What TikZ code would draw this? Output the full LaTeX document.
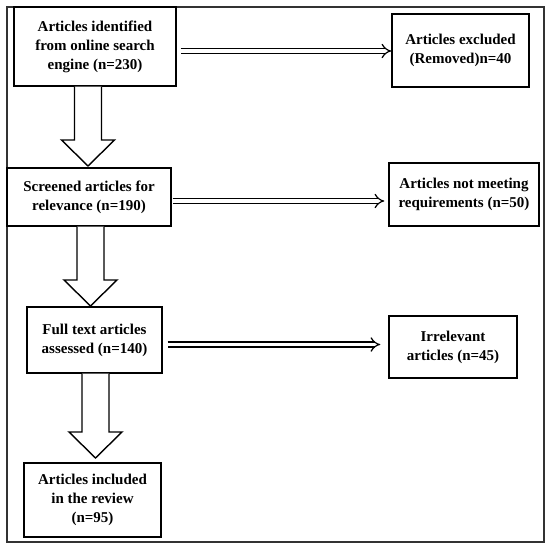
\documentclass[tikz,border=0pt]{standalone}
\usepackage{fontspec}
\setmainfont{Liberation Serif}
\usetikzlibrary{calc}
\usetikzlibrary{arrows.meta}
\tikzset{box/.style={rectangle, draw, line width=1.4pt, align=center, inner sep=0pt,
   font=\fontsize{15pt}{19pt}\selectfont\bfseries}}
\tikzset{frame/.style={draw=black!80, line width=1.3pt}}
\tikzset{fat/.style={draw, line width=1.4pt, fill=white}}
\tikzset{thinarrow/.style={double, double distance=3.8pt, line width=1.2pt, -{Implies[scale=1.3]}}}
\newcommand{\fatarrow}[2]{%
  \draw[fat] ($(#1)+(-13.5,0)$) -- ($(#2)+(-13.5,-26)$) -- ($(#2)+(-26.5,-26)$) -- (#2)
    -- ($(#2)+(26.5,-26)$) -- ($(#2)+(13.5,-26)$) -- ($(#1)+(13.5,0)$);}

\begin{document}
\begin{tikzpicture}[x=1pt, y=-1pt]

    \useasboundingbox (0,0) rectangle (550,549);
    \draw[frame] (7,7) rectangle (544,542);

    % main column
    \node[box, minimum width=162pt, minimum height=79pt] (ident) at (95,46.5)
      {Articles identified\\from online search\\engine (n=230)};
    \node[box, minimum width=164pt, minimum height=58pt] (screen) at (89,197)
      {Screened articles for\\relevance (n=190)};
    \node[box, minimum width=135pt, minimum height=66pt] (full) at (94.5,340)
      {Full text articles\\assessed (n=140)};
    \node[box, minimum width=137pt, minimum height=74pt] (incl) at (92.5,500)
      {Articles included\\in the review\\(n=95)};

    % excluded column
    \node[box, minimum width=137pt, minimum height=73pt] (excl) at (460.5,50.5)
      {Articles excluded\\(Removed)n=40};
    \node[box, minimum width=150pt, minimum height=63pt] (notmeet) at (464,194.5)
      {Articles not meeting\\requirements (n=50)};
    \node[box, minimum width=128pt, minimum height=62pt] (irrel) at (453,347)
      {Irrelevant\\articles (n=45)};

    % arrow tips
    \coordinate (t1) at (88,166);
    \coordinate (t2) at (90.5,306);
    \coordinate (t3) at (95.5,458);

    \fatarrow{ident.south -| t1}{t1}
    \fatarrow{screen.south -| t2}{t2}
    \fatarrow{full.south -| t3}{t3}

    \draw[thinarrow] ([xshift=4pt,yshift=-4.5pt]ident.east) -- ([yshift=-4.5pt]ident.east -| excl.west);
    \draw[thinarrow] ([xshift=1pt,yshift=-4pt]screen.east) -- ([xshift=-4pt,yshift=-4pt]screen.east -| notmeet.west);
    \draw[thinarrow] ([xshift=5pt,yshift=-4.5pt]full.east) -- ([xshift=-8pt,yshift=-4.5pt]full.east -| irrel.west);

  \end{tikzpicture}
\end{document}
